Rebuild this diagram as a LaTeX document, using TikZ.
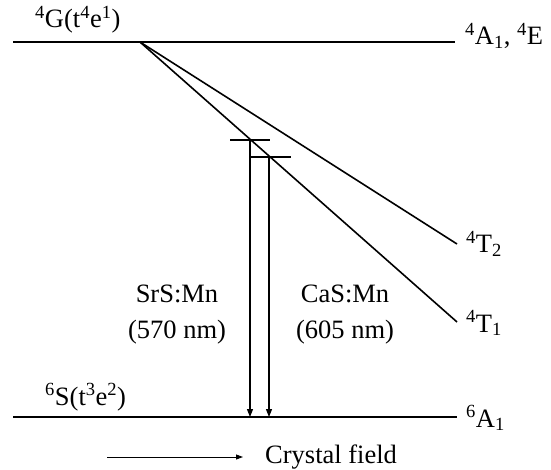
\documentclass[tikz,border=0pt]{standalone}
\usepackage{fontspec}
\setmainfont{Liberation Serif}
\usetikzlibrary{arrows.meta,positioning}

\begin{document}
\begin{tikzpicture}[
  x=1pt,y=-1pt,
  lvl/.style={line width=1.6pt},
  bar/.style={line width=1.6pt},
  term/.style={font=\rmfamily\fontsize{26.5}{30}\selectfont,inner sep=0pt},
  emit/.style={-{Triangle[length=8pt,width=6pt]},line width=1.1pt},
  axis/.style={-{Triangle[length=7pt,width=5pt]},line width=0.9pt},
]
\useasboundingbox (0,0) rectangle (551,470);

% free-ion levels and their terms
\coordinate (gL) at (13,42);
\coordinate (gK) at (140,42);
\coordinate (gR) at (455,42);
\coordinate (sL) at (13,417);
\coordinate (sR) at (457,417);
\draw[lvl] (gL) -- (gR);
\draw[lvl] (sL) -- (sR);

% crystal-field split levels
\coordinate (t2end) at (457,244);
\coordinate (t1end) at (457,322);
\draw[lvl] (gK) -- (t2end);
\draw[lvl] (gK) -- (t1end);

% labels of the levels
\node[term,anchor=base west] (g4)  at (35,28)  {\textsuperscript{4}G(t\textsuperscript{4}e\textsuperscript{1})};
\node[term,anchor=base west] (s6)  at (45,405) {\textsuperscript{6}S(t\textsuperscript{3}e\textsuperscript{2})};
\node[term,anchor=base west] (a1e) at (465,45)  {\textsuperscript{4}A\textsubscript{1}, \textsuperscript{4}E};
\node[term,anchor=base west] (t2)  at (466,253) {\textsuperscript{4}T\textsubscript{2}};
\node[term,anchor=base west] (t1)  at (466,332) {\textsuperscript{4}T\textsubscript{1}};
\node[term,anchor=base west] (a1)  at (466,427) {\textsuperscript{6}A\textsubscript{1}};

% emitting levels of the two hosts
\coordinate (srsL) at (230,140);
\coordinate (srsR) at (270,140);
\coordinate (casL) at (250,157);
\coordinate (casR) at (291,157);
\draw[bar] (srsL) -- (srsR);
\draw[bar] (casL) -- (casR);

\coordinate (srsTop) at (250,140);
\coordinate (srsBot) at (250,417);
\coordinate (casTop) at (269,157);
\coordinate (casBot) at (269,417);
\draw[emit] (srsTop) -- (srsBot);
\draw[emit] (casTop) -- (casBot);

\node[term,anchor=base] (srs)   at (177,302) {SrS:Mn};
\node[term,anchor=base] (srsnm) at (177,338) {(570 nm)};
\node[term,anchor=base] (cas)   at (345,302) {CaS:Mn};
\node[term,anchor=base] (casnm) at (345,338) {(605 nm)};

% crystal field direction
\coordinate (cfa) at (107,457);
\coordinate (cfb) at (243,457);
\draw[axis] (cfa) -- (cfb);
\node[term,anchor=base west] (cf) at (265,463) {Crystal field};
\end{tikzpicture}
\end{document}
